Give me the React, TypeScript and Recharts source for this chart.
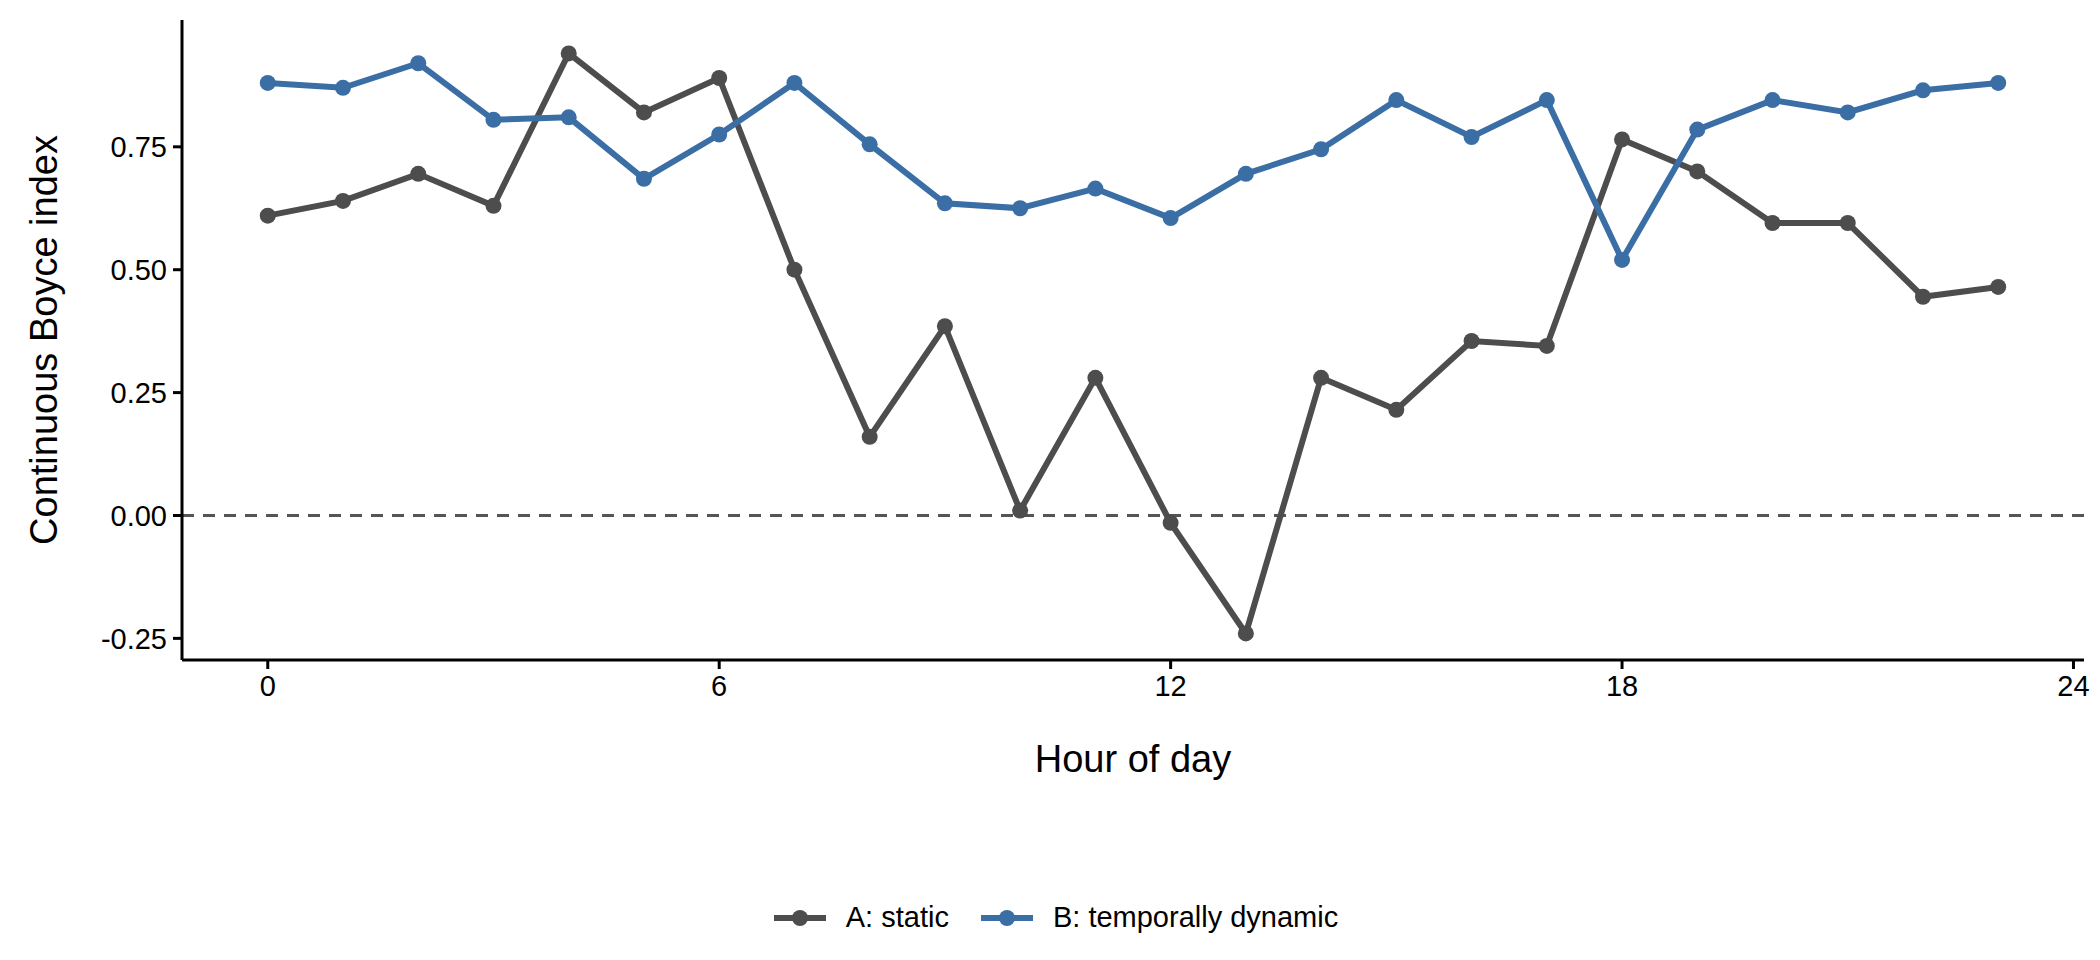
import React from 'react'
import { LineChart, Line, XAxis, YAxis, ReferenceLine, Legend } from 'recharts'

const hours = [0, 1, 2, 3, 4, 5, 6, 7, 8, 9, 10, 11, 12, 13, 14, 15, 16, 17, 18, 19, 20, 21, 22, 23]
const staticVals = [0.61, 0.64, 0.695, 0.63, 0.94, 0.82, 0.89, 0.5, 0.16, 0.385, 0.01, 0.28, -0.015, -0.24, 0.28, 0.215, 0.355, 0.345, 0.765, 0.7, 0.595, 0.595, 0.445, 0.465]
const dynamicVals = [0.88, 0.87, 0.92, 0.805, 0.81, 0.685, 0.775, 0.88, 0.755, 0.635, 0.625, 0.665, 0.605, 0.695, 0.745, 0.845, 0.77, 0.845, 0.52, 0.785, 0.845, 0.82, 0.865, 0.88]
const xTicks = [0, 6, 12, 18, 24]
const yTicks = [-0.25, 0, 0.25, 0.5, 0.75]

const data = hours.map((h, i) => ({ hour: h, a: staticVals[i], b: dynamicVals[i] }))

const GREY = '#4d4d4d'
const BLUE = '#3a6ea5'
const font = '"Liberation Sans", Arial, sans-serif'

const LegendContent = () => (
  <div style={{ display: 'flex', justifyContent: 'center', gap: 28, fontFamily: font, fontSize: 29 }}>
    {[['A: static', GREY], ['B: temporally dynamic', BLUE]].map(([name, c]) => (
      <div key={name} style={{ display: 'flex', alignItems: 'center', gap: 16 }}>
        <svg width={60} height={22}>
          <line x1={4} y1={11} x2={56} y2={11} stroke={c} strokeWidth={6} />
          <circle cx={30} cy={11} r={8} fill={c} />
        </svg>
        <span>{name}</span>
      </div>
    ))}
  </div>
)

export default function App() {
  return (
    <LineChart width={2092} height={944} data={data} margin={{ top: 12, right: 16, bottom: 199, left: 0 }}>
      <XAxis
        dataKey="hour" type="number" domain={[-1.14, 24.14]} ticks={xTicks}
        tick={{ fill: '#000', fontSize: 29, fontFamily: font }} tickSize={9} tickMargin={6}
        stroke="#000" strokeWidth={3} height={60}
        label={{ value: 'Hour of day', position: 'insideBottom', offset: -52, fill: '#000', fontSize: 38, fontFamily: font }}
      />
      <YAxis
        type="number" domain={[-0.294, 1.008]} ticks={yTicks} tickFormatter={(v) => v.toFixed(2)}
        tick={{ fill: '#000', fontSize: 29, fontFamily: font }} tickSize={9} tickMargin={6}
        stroke="#000" strokeWidth={3} width={174} allowDataOverflow
        label={{ value: 'Continuous Boyce index', angle: -90, position: 'insideLeft', offset: 36, fill: '#000', fontSize: 38, fontFamily: font, style: { textAnchor: 'middle' } }}
      />
      <ReferenceLine y={0} stroke="#555" strokeWidth={2.8} strokeDasharray="12 9" />
      <Line dataKey="a" name="A: static" stroke={GREY} strokeWidth={6} dot={{ r: 8, fill: GREY, stroke: GREY, strokeWidth: 0 }} isAnimationActive={false} />
      <Line dataKey="b" name="B: temporally dynamic" stroke={BLUE} strokeWidth={6} dot={{ r: 8, fill: BLUE, stroke: BLUE, strokeWidth: 0 }} isAnimationActive={false} />
      <Legend content={<LegendContent />} wrapperStyle={{ top: 893, left: 0, width: 2092 }} />
    </LineChart>
  )
}
